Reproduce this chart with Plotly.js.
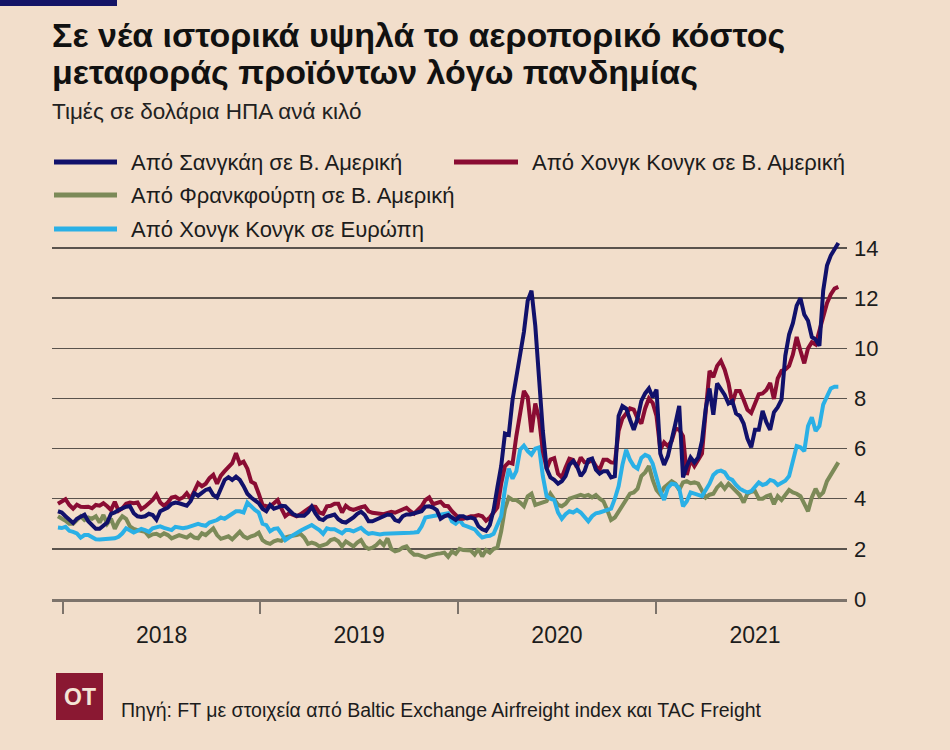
<!DOCTYPE html>
<html>
<head>
<meta charset="utf-8">
<script src="https://cdn.plot.ly/plotly-3.0.1.min.js"></script>
<style>
html,body{margin:0;padding:0;background:#f2decb;}
#chart{width:950px;height:750px;}
</style>
</head>
<body>
<div id="chart"></div>
<script>
// ---- data (weekly readings, USD per kg) ----
const startDate = '2017-12-23';
const weekCount = 207;

const shanghaiNA = [3.5,3.45,3.3,3.15,3.03,3.2,3.3,3.36,3.1,2.95,
2.8,2.8,2.95,3.05,3.4,3.45,3.55,3.62,3.68,3.7,
3.42,3.3,3.27,3.3,3.4,3.35,3.16,3.5,3.58,3.65,
3.8,3.85,3.82,3.75,3.72,3.9,4.22,4.12,4.25,4.35,
4.4,4.15,4.05,4.45,4.75,4.86,4.75,4.88,4.75,4.5,
4.2,4.05,3.95,3.82,3.6,3.5,3.75,3.6,3.65,3.72,
3.7,3.55,3.4,3.32,3.3,3.32,3.45,3.68,3.4,3.2,
3.15,3.28,3.32,3.37,3.18,3.08,3.05,3.15,3.25,3.4,
3.48,3.35,3.1,3.1,3.18,3.25,3.3,3.37,3.35,3.15,
3.1,3.3,3.37,3.37,3.4,3.44,3.5,3.68,3.7,3.65,
3.55,3.2,3.3,3.35,3.25,3.15,3.3,3.3,3.22,3.25,
3.2,2.9,2.78,2.72,2.95,3.55,4.45,5.3,6.6,6.55,
7.95,8.9,9.6,10.65,11.9,12.3,10.9,8.8,6.7,5.2,
4.85,4.75,4.6,4.7,4.9,5.35,5.5,5.3,4.9,5.1,
5.55,5.6,5.16,5.0,5.1,5.1,4.85,4.9,7.3,7.7,
7.6,7.15,6.75,7.2,7.9,8.2,8.4,8.05,8.35,5.8,
5.35,5.7,6.3,7.0,7.7,4.85,5.3,5.65,5.45,5.65,
6.3,7.6,8.4,7.35,8.6,8.4,8.14,7.8,7.9,7.4,
7.3,7.0,6.4,6.05,6.75,6.75,7.5,7.05,6.75,7.45,
7.65,7.95,9.7,10.55,11.0,11.7,12.0,11.35,11.1,10.45,
10.35,10.1,12.3,13.3,13.7,13.95,14.2];

const hongKongNA = [3.8,3.88,3.98,3.75,3.6,3.76,3.68,3.67,3.68,3.62,
3.75,3.72,3.82,3.7,3.55,3.88,3.52,3.62,3.8,3.85,
3.82,3.85,3.58,3.68,3.8,3.95,4.16,3.85,3.72,3.85,
4.05,4.08,3.98,4.05,4.22,4.0,4.3,4.62,4.5,4.6,
4.82,4.95,4.6,4.92,5.1,5.25,5.42,5.82,5.4,5.48,
5.2,4.68,4.6,4.2,3.75,3.7,3.7,3.82,3.95,3.6,
3.3,3.42,3.38,3.3,3.38,3.48,3.6,3.7,3.68,3.45,
3.4,3.7,3.72,3.8,3.8,3.45,3.72,3.6,3.55,3.62,
3.66,3.7,3.5,3.44,3.44,3.4,3.38,3.45,3.48,3.44,
3.52,3.6,3.64,3.5,3.4,3.55,3.7,3.95,4.05,3.78,
3.85,3.88,3.72,3.7,3.5,3.32,3.2,3.2,3.27,3.3,
3.3,3.35,3.3,3.12,3.25,3.45,3.65,4.6,5.3,5.45,
5.4,6.5,7.5,8.3,8.05,6.65,7.8,7.2,5.9,5.2,
5.56,5.62,5.0,4.85,5.25,5.6,5.55,5.25,5.65,5.45,
5.45,5.55,5.3,5.16,5.55,5.55,5.45,5.43,6.7,7.2,
7.4,7.6,7.55,7.2,7.0,7.6,8.0,7.82,7.3,5.96,
6.25,6.1,6.3,6.8,6.75,6.5,4.95,5.55,5.3,5.58,
5.8,7.5,9.1,8.85,9.3,9.5,9.15,8.62,7.8,8.3,
8.3,7.95,7.55,7.42,7.8,8.17,8.2,8.34,8.62,7.98,
8.8,9.1,9.15,9.3,9.75,10.45,9.9,9.4,10.0,10.24,
10.15,10.75,11.3,11.8,12.15,12.38,12.45];

const frankfurtNA = [3.3,3.22,3.12,3.0,3.0,3.15,3.3,3.15,3.25,3.2,
3.3,3.05,3.35,3.0,3.2,2.8,3.1,3.3,3.2,2.9,
2.8,2.75,2.72,2.68,2.5,2.58,2.6,2.52,2.62,2.55,
2.42,2.48,2.55,2.5,2.45,2.56,2.45,2.42,2.62,2.55,
2.7,2.82,2.55,2.4,2.45,2.5,2.38,2.55,2.68,2.5,
2.42,2.5,2.55,2.65,2.35,2.25,2.2,2.3,2.35,2.32,
2.45,2.5,2.52,2.55,2.6,2.45,2.2,2.25,2.2,2.1,
2.15,2.2,2.35,2.4,2.3,2.1,2.3,2.2,2.1,2.25,
2.35,2.1,2.0,2.05,2.15,2.3,2.15,2.42,2.0,1.9,
1.95,2.05,2.1,1.9,1.77,1.77,1.72,1.66,1.72,1.77,
1.8,1.82,1.85,1.68,1.9,1.8,2.0,1.95,1.92,1.93,
1.77,2.0,1.7,1.95,1.85,2.0,2.05,2.7,3.6,4.05,
3.95,3.95,3.85,3.7,4.1,4.2,3.75,3.8,3.85,3.9,
4.2,3.95,3.75,3.7,3.8,4.0,4.05,4.1,4.15,4.1,
4.15,4.05,4.15,4.0,3.9,3.55,3.15,3.25,3.5,3.75,
3.95,4.2,4.25,4.4,4.9,5.05,5.3,4.75,4.35,4.17,
4.45,4.6,4.7,4.6,4.35,4.65,4.7,4.62,4.65,4.6,
4.3,4.05,4.16,4.2,4.45,4.6,4.4,4.6,4.45,4.3,
4.15,3.85,4.2,4.28,4.3,4.0,4.0,4.1,4.15,3.78,
4.1,3.95,4.15,4.35,4.25,4.2,4.1,3.8,3.5,4.05,
4.4,4.1,4.25,4.7,4.95,5.2,5.45];

const hongKongEU = [2.85,2.83,2.88,2.72,2.68,2.62,2.45,2.55,2.55,2.45,
2.38,2.37,2.38,2.39,2.4,2.42,2.48,2.62,2.82,2.75,
2.65,2.72,2.8,2.75,2.68,2.82,2.88,2.9,2.84,2.78,
2.75,2.88,2.85,2.82,2.85,2.9,2.95,3.0,2.95,2.92,
3.05,3.1,3.15,3.25,3.2,3.3,3.4,3.5,3.5,3.45,
3.85,3.68,3.55,3.45,3.0,2.95,2.7,2.8,2.82,2.6,
2.35,2.45,2.55,2.65,2.72,2.8,2.88,2.95,2.85,2.75,
2.6,2.82,2.78,2.78,2.7,2.62,2.75,2.75,2.7,2.76,
2.84,2.7,2.6,2.63,2.6,2.57,2.6,2.6,2.6,2.6,
2.62,2.62,2.63,2.64,2.65,2.67,2.9,3.25,3.28,3.3,
3.32,3.36,3.38,3.42,3.1,3.0,3.15,2.95,2.9,2.85,
2.78,2.6,2.45,2.5,2.52,2.6,2.95,3.3,4.4,5.2,
4.8,5.1,5.96,6.12,5.9,5.76,6.0,6.05,4.9,4.1,
4.0,3.95,3.45,3.2,3.38,3.5,3.45,3.55,3.45,3.25,
3.1,3.3,3.42,3.45,3.5,3.52,3.6,4.0,4.5,5.35,
5.95,5.55,5.3,5.2,5.63,5.75,5.68,5.4,4.85,4.3,
3.95,4.43,4.6,4.57,4.4,3.7,3.9,4.25,4.2,4.15,
4.1,4.35,4.6,4.95,5.08,5.12,5.05,4.82,4.75,4.55,
4.4,4.32,4.25,4.3,4.45,4.65,4.55,4.6,4.75,4.7,
4.55,4.65,4.72,4.9,5.5,6.1,6.05,5.9,6.9,7.25,
6.7,6.9,7.75,8.1,8.4,8.47,8.47];

const seriesNames = ['Από Σανγκάη σε Β. Αμερική','Από Χονγκ Κονγκ σε Β. Αμερική','Από Φρανκφούρτη σε Β. Αμερική','Από Χονγκ Κονγκ σε Ευρώπη'];
const yTicks = [0,2,4,6,8,10,12,14];

// weekly dates
const dates = [];
(function(){
  const d0 = new Date(startDate + 'T00:00:00Z');
  for (let i = 0; i < weekCount; i++) {
    const d = new Date(d0.getTime() + i*7*86400000);
    dates.push(d.toISOString().slice(0,10));
  }
})();

// ---- styling ----
const BG = '#f2decb';
const colors = ['#11116b','#8a0c33','#7c8a58','#2ab0e6'];
const FONT = '"Liberation Sans", Arial, sans-serif';
const TXT = '#1c1c1c';

const W = 950, H = 750;
const M = {l:52, r:103, t:238, b:151};
const pw = W - M.l - M.r, ph = H - M.t - M.b;
const px = x => (x - M.l) / pw;
const py = y => (H - M.b - y) / ph;

const valuesList = [shanghaiNA, hongKongNA, frankfurtNA, hongKongEU];
const drawOrder = [2,3,1,0];
const traces = drawOrder.map(k => ({
  type:'scatter', mode:'lines', x: dates, y: valuesList[k], name: seriesNames[k],
  line:{color:colors[k], width:4, shape:'linear'}, showlegend:false, hoverinfo:'skip', cliponaxis:false
}));

const shapes = [
  {type:'rect', xref:'paper', yref:'paper', x0:px(0), x1:px(117), y0:py(0), y1:py(6), fillcolor:'#141466', line:{width:0}},
  {type:'rect', xref:'paper', yref:'paper', x0:px(56), x1:px(103), y0:py(673), y1:py(720), fillcolor:'#8a1832', line:{width:0}}
];
const annotations = [
  {text:'<b>Σε νέα ιστορικά υψηλά το αεροπορικό κόστος</b>', x:px(50), y:py(35)},
  {text:'<b>μεταφοράς προϊόντων λόγω πανδημίας</b>', x:px(50), y:py(72)},
].map(a => Object.assign(a, {xref:'paper', yref:'paper', xanchor:'left', yanchor:'middle', showarrow:false, font:{family:FONT, size:34, color:'#111'}}));

annotations.push({text:'Τιμές σε δολάρια ΗΠΑ ανά κιλό', x:px(50), y:py(111), xref:'paper', yref:'paper', xanchor:'left', yanchor:'middle', showarrow:false, font:{family:FONT, size:22.5, color:'#222'}});

const legendPos = [[54,117,162],[454,518,162],[54,117,195],[54,117,229]];
legendPos.forEach((p,k) => {
  shapes.push({type:'line', xref:'paper', yref:'paper', x0:px(p[0]), x1:px(p[1]), y0:py(p[2]), y1:py(p[2]), line:{color:colors[k], width:5}});
  annotations.push({text:seriesNames[k], x:px(p[1]+12), y:py(p[2]), xref:'paper', yref:'paper', xanchor:'left', yanchor:'middle', showarrow:false, font:{family:FONT, size:22, color:TXT}});
});

annotations.push({text:'<b>OT</b>', x:px(79.5), y:py(697), xref:'paper', yref:'paper', xanchor:'center', yanchor:'middle', showarrow:false, font:{family:FONT, size:23, color:'#f4e4d6'}});
annotations.push({text:'Πηγή: FT με στοιχεία από Baltic Exchange Airfreight index και TAC Freight', x:px(119), y:py(710), xref:'paper', yref:'paper', xanchor:'left', yanchor:'middle', showarrow:false, font:{family:FONT, size:19.5, color:TXT}});

const layout = {
  width:W, height:H, margin:M,
  paper_bgcolor:BG, plot_bgcolor:BG,
  showlegend:false,
  xaxis:{type:'date', range:['2017-12-12','2021-12-20'], tick0:'2018-01-01', dtick:'M12', ticklabelmode:'period', tickformat:'%Y',
    ticks:'outside', ticklen:12, tickwidth:2, tickcolor:'#7d736b', showline:true, linecolor:'#7d736b', linewidth:2.5,
    showgrid:false, zeroline:false, tickfont:{family:FONT, size:23, color:TXT}, ticklabelstandoff:2, fixedrange:true},
  yaxis:{side:'right', range:[0,14.4], tickmode:'array', tickvals:yTicks, ticktext:yTicks.map(String), showgrid:true, gridcolor:'#5a534d', gridwidth:1.5,
    zeroline:false, ticks:'', showline:false, tickfont:{family:FONT, size:22, color:TXT}, ticklabelstandoff:6, fixedrange:true},
  shapes:shapes, annotations:annotations
};

Plotly.newPlot('chart', traces, layout, {displayModeBar:false, staticPlot:true});
</script>
</body>
</html>
